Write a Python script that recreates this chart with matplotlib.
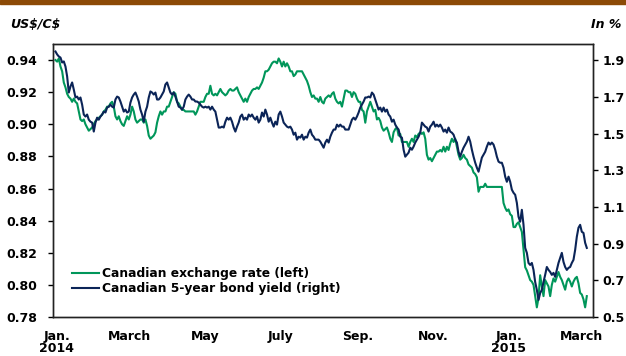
import pandas as pd
import matplotlib.pyplot as plt
from matplotlib.lines import Line2D
from matplotlib.patches import Rectangle

plt.rcParams['font.family'] = ['DejaVu Sans']
plt.rcParams['font.weight'] = 'bold'

# Tageswerte Jan. 2014 bis Anfang März 2015
wechselkurs = [
    0.940, 0.939, 0.941, 0.936, 0.933, 0.926, 0.923, 0.919, 0.917, 0.916, 0.914, 0.916, 0.914, 0.913, 0.908,
    0.903, 0.902, 0.903, 0.900, 0.898, 0.896, 0.897, 0.898, 0.900, 0.902, 0.903, 0.904, 0.905, 0.906, 0.908,
    0.909, 0.911, 0.911, 0.913, 0.914, 0.911, 0.905, 0.903, 0.905, 0.902, 0.900, 0.899, 0.902, 0.905, 0.903,
    0.906, 0.911, 0.908, 0.903, 0.901, 0.902,
    0.903, 0.903, 0.901, 0.903, 0.899, 0.893, 0.891, 0.892, 0.893, 0.895, 0.901, 0.905, 0.908, 0.906, 0.908,
    0.908, 0.911, 0.911, 0.914, 0.917, 0.920, 0.919, 0.914, 0.913, 0.911, 0.909, 0.909, 0.908, 0.908, 0.908,
    0.908, 0.908, 0.908, 0.906, 0.908, 0.911, 0.914, 0.914, 0.914, 0.917, 0.919, 0.919, 0.924, 0.919, 0.918,
    0.919, 0.918, 0.920, 0.922, 0.920, 0.919, 0.918, 0.919, 0.921,
    0.922, 0.921, 0.921, 0.922, 0.923, 0.920, 0.918, 0.916, 0.914, 0.916, 0.914, 0.917, 0.919, 0.921, 0.922,
    0.922, 0.923, 0.922, 0.924, 0.926, 0.929, 0.933, 0.933, 0.934, 0.936, 0.938, 0.939, 0.939, 0.938, 0.941,
    0.939, 0.936, 0.939, 0.936, 0.938, 0.936, 0.933, 0.933, 0.930, 0.931, 0.933, 0.933, 0.933, 0.933, 0.931,
    0.929, 0.927, 0.924, 0.920, 0.917, 0.918, 0.916, 0.916, 0.914,
    0.917, 0.914, 0.913, 0.916, 0.917, 0.918, 0.917, 0.919, 0.920, 0.916, 0.914, 0.913, 0.914, 0.911, 0.916,
    0.921, 0.921, 0.920, 0.920, 0.917, 0.920, 0.919, 0.916, 0.914, 0.914, 0.909, 0.908, 0.901, 0.908, 0.911,
    0.914, 0.911, 0.908, 0.909, 0.903, 0.904, 0.902, 0.898, 0.896, 0.897, 0.898, 0.895, 0.891, 0.889, 0.895,
    0.897, 0.898, 0.893, 0.894, 0.889, 0.889, 0.889, 0.889, 0.886,
    0.889, 0.891, 0.889, 0.893, 0.892, 0.894, 0.895, 0.894, 0.895, 0.891, 0.881, 0.878, 0.879, 0.877, 0.879,
    0.881, 0.883, 0.883, 0.884, 0.883, 0.886, 0.883, 0.886, 0.884, 0.888, 0.891, 0.889, 0.891, 0.886, 0.881,
    0.878, 0.879, 0.881, 0.879, 0.878, 0.875, 0.874, 0.873, 0.870, 0.869, 0.867, 0.858, 0.861, 0.861, 0.861,
    0.863, 0.861, 0.861, 0.861, 0.861, 0.861,
    0.861, 0.861, 0.861, 0.861, 0.861, 0.851, 0.848, 0.846, 0.847, 0.844, 0.843, 0.836, 0.836, 0.838, 0.839,
    0.836, 0.833, 0.822, 0.811, 0.809, 0.806, 0.803, 0.802, 0.800, 0.793, 0.786, 0.792, 0.806, 0.799, 0.793,
    0.803, 0.801, 0.799, 0.793, 0.800, 0.804, 0.802, 0.805, 0.808, 0.805, 0.803, 0.800, 0.797, 0.802, 0.804,
    0.802, 0.799, 0.802, 0.804, 0.805, 0.801, 0.795, 0.794, 0.791, 0.786, 0.793,
]

rendite_5j = [
    1.949, 1.933, 1.922, 1.916, 1.889, 1.895, 1.867, 1.813, 1.725, 1.758, 1.780, 1.741, 1.698, 1.703, 1.687,
    1.698, 1.659, 1.605, 1.594, 1.605, 1.577, 1.566, 1.561, 1.512, 1.561, 1.588, 1.577, 1.594, 1.605, 1.621,
    1.616, 1.643, 1.648, 1.659, 1.648, 1.643, 1.687, 1.703, 1.698, 1.676, 1.648, 1.621, 1.632, 1.616, 1.621,
    1.670, 1.698, 1.714, 1.725, 1.703, 1.676,
    1.632, 1.605, 1.566, 1.621, 1.648, 1.698, 1.731, 1.725, 1.714, 1.725, 1.687, 1.687, 1.698, 1.714, 1.731,
    1.769, 1.780, 1.752, 1.725, 1.714, 1.725, 1.703, 1.676, 1.648, 1.643, 1.632, 1.648, 1.687, 1.703, 1.714,
    1.703, 1.687, 1.687, 1.676, 1.676, 1.670, 1.659, 1.648, 1.643, 1.648, 1.643, 1.648, 1.632, 1.648, 1.632,
    1.621, 1.577, 1.534, 1.534, 1.539, 1.534, 1.566, 1.588, 1.577,
    1.588, 1.566, 1.534, 1.512, 1.539, 1.561, 1.594, 1.605, 1.577, 1.588, 1.577, 1.605, 1.594, 1.605, 1.588,
    1.577, 1.594, 1.561, 1.577, 1.616, 1.594, 1.632, 1.605, 1.566, 1.588, 1.561, 1.539, 1.566, 1.550, 1.605,
    1.621, 1.594, 1.561, 1.550, 1.539, 1.534, 1.539, 1.523, 1.495, 1.506, 1.468, 1.484, 1.479, 1.495, 1.468,
    1.484, 1.479, 1.506, 1.523, 1.495, 1.484, 1.468, 1.468, 1.468,
    1.457, 1.441, 1.424, 1.452, 1.468, 1.452, 1.484, 1.506, 1.523, 1.523, 1.550, 1.539, 1.550, 1.539, 1.539,
    1.523, 1.523, 1.523, 1.550, 1.577, 1.588, 1.577, 1.594, 1.616, 1.643, 1.659, 1.676, 1.698, 1.698, 1.703,
    1.698, 1.725, 1.714, 1.687, 1.659, 1.632, 1.643, 1.621, 1.643, 1.621, 1.632, 1.605, 1.594, 1.566, 1.577,
    1.550, 1.534, 1.523, 1.484, 1.479, 1.413, 1.375, 1.386, 1.397,
    1.424, 1.413, 1.430, 1.452, 1.468, 1.484, 1.506, 1.561, 1.550, 1.539, 1.534, 1.512, 1.539, 1.550, 1.566,
    1.539, 1.550, 1.539, 1.550, 1.534, 1.512, 1.523, 1.506, 1.534, 1.512, 1.506, 1.495, 1.468, 1.452, 1.402,
    1.375, 1.402, 1.424, 1.441, 1.457, 1.484, 1.457, 1.413, 1.375, 1.342, 1.315, 1.293, 1.331, 1.370, 1.386,
    1.402, 1.430, 1.452, 1.441, 1.452, 1.441,
    1.413, 1.375, 1.348, 1.342, 1.342, 1.315, 1.266, 1.238, 1.266, 1.238, 1.195, 1.178, 1.167, 1.123, 1.047,
    1.020, 1.085, 1.003, 0.877, 0.850, 0.795, 0.784, 0.795, 0.757, 0.691, 0.648, 0.593, 0.631, 0.648, 0.691,
    0.730, 0.773, 0.757, 0.746, 0.730, 0.741, 0.719, 0.757, 0.795, 0.823, 0.850, 0.801, 0.773, 0.757, 0.768,
    0.773, 0.795, 0.812, 0.866, 0.938, 0.987, 1.003, 0.965, 0.959, 0.905, 0.877,
]

datum = pd.date_range('2013-12-31', '2015-03-05', periods=len(wechselkurs))

monats_ticks = ['2014-01-01', '2014-03-01', '2014-05-01', '2014-07-01', '2014-09-01',
                '2014-11-01', '2015-01-01', '2015-03-01']
monats_labels = ['Jan.\n2014', 'March', 'May', 'July', 'Sep.', 'Nov.', 'Jan.\n2015', 'March']
links_ticks = [0.78, 0.80, 0.82, 0.84, 0.86, 0.88, 0.90, 0.92, 0.94]
rechts_ticks = [0.5, 0.7, 0.9, 1.1, 1.3, 1.5, 1.7, 1.9]

gruen = '#00965a'
blau = '#0b2457'

fig = plt.figure(figsize=(6.26, 3.56), dpi=100)
# brauner Balken am oberen Rand
fig.patches.append(Rectangle((0, 352 / 356), 1, 4 / 356, transform=fig.transFigure,
                             color='#8c4a06', zorder=0))

ax = fig.add_axes([53 / 626, 1 - 317 / 356, 540 / 626, 273 / 356])
ax2 = ax.twinx()

ax.plot(datum, wechselkurs, color=gruen, lw=1.5)
ax2.plot(datum, rendite_5j, color=blau, lw=1.5)

ax.set_xlim(pd.Timestamp('2013-12-29'), pd.Timestamp('2015-03-10'))
ax.set_ylim(0.78, 0.95)
ax2.set_ylim(0.5, 1.99)

ax.set_yticks(links_ticks)
ax.set_yticklabels([f'{t:.2f}' for t in links_ticks])
ax2.set_yticks(rechts_ticks)
ax2.set_yticklabels([f'{t:.1f}' for t in rechts_ticks])
ax.set_xticks(pd.to_datetime(monats_ticks))
ax.set_xticklabels(monats_labels, linespacing=0.9)

ax.tick_params(axis='y', direction='out', length=3.5, width=1, labelsize=9, pad=8)
ax2.tick_params(axis='y', direction='out', length=3.5, width=1, labelsize=9, pad=3.5)
ax.tick_params(axis='x', length=0, labelsize=9, pad=9.5)

for a in (ax, ax2):
    for s in a.spines.values():
        s.set_linewidth(1)
        s.set_color('#222222')

fig.text(10 / 626, 1 - 24 / 356, r'US\$/C\$', fontsize=9, style='italic', weight='bold',
         va='center', ha='left')
fig.text(621 / 626, 1 - 24 / 356, 'In %', fontsize=9, style='italic', weight='bold',
         va='center', ha='right')

handles = [Line2D([], [], color=gruen, lw=1.5), Line2D([], [], color=blau, lw=1.5)]
ax2.legend(handles, ['Canadian exchange rate (left)', 'Canadian 5-year bond yield (right)'],
           loc='lower left', bbox_to_anchor=(0.035, 0.08), frameon=False, fontsize=8.8,
           handlelength=2.2, handletextpad=0.3, labelspacing=0.18, borderaxespad=0,
           borderpad=0)

fig.savefig('out.png', dpi=100)
